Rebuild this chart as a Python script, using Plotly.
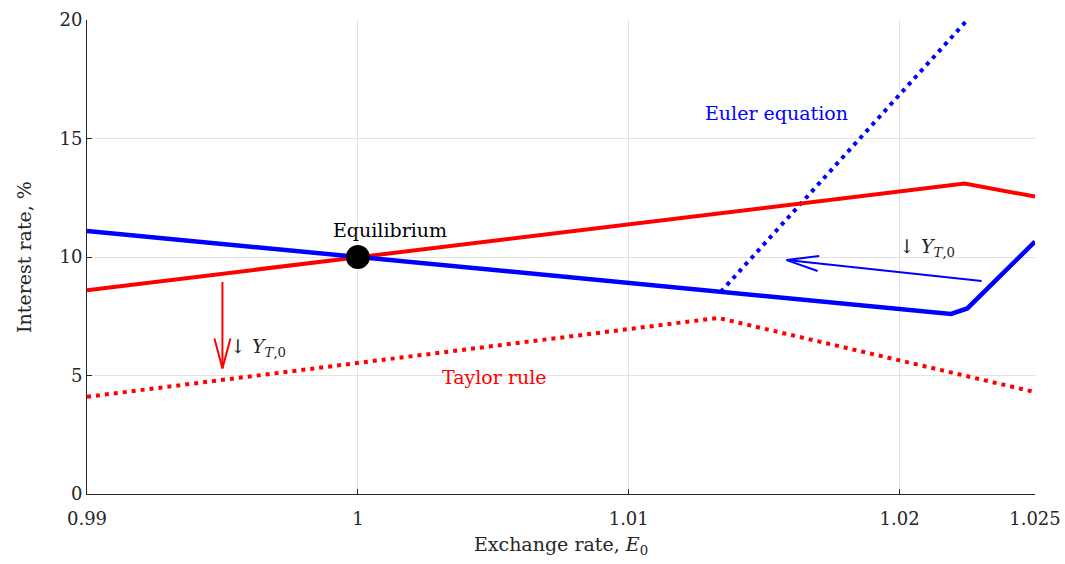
import plotly.graph_objects as go
import numpy as np

# ---- data ----
taylor_x = [0.99, 1.0, 1.0220, 1.0224, 1.025]
taylor_y = [8.6, 10.0, 13.08, 13.1, 12.55]

euler_x = [0.99, 1.0, 1.0134, 1.0219, 1.0225, 1.025]
euler_y = [11.1, 10.0, 8.53, 7.6, 7.83, 10.65]

euler_shift_x = [1.0134, 1.0225]
euler_shift_y = [8.53, 20.0]

taylor_shift_x = [0.99, 1.0133, 1.025]
taylor_shift_y = [4.1, 7.43, 4.3]

equil_x = [1.0]
equil_y = [10.0]

red_arrow_x = [0.995, 0.995]      # tail, tip
red_arrow_y = [8.95, 5.3]
blue_arrow_x = [1.02303, 1.01583]
blue_arrow_y = [8.99, 9.87]

x_ticks = [0.99, 1.0, 1.01, 1.02, 1.025]
x_ticklabels = ["0.99", "1", "1.01", "1.02", "1.025"]
y_ticks = [0, 5, 10, 15, 20]

X_RANGE = [0.99, 1.025]
Y_RANGE = [0, 20]

W, H = 1065, 564
ML, MR, MT, MB = 87, 30, 20, 70
PW, PH = W - ML - MR, H - MT - MB
sx = PW / (X_RANGE[1] - X_RANGE[0])
sy = PH / (Y_RANGE[1] - Y_RANGE[0])

FONT = "DejaVu Serif"
RED = "#ff0000"
BLUE = "#0000ff"
DARK = "#262626"


def arrow_traces(xs, ys, color, width, head_len, head_half):
    traces = [go.Scatter(x=xs, y=ys, mode="lines",
                         line=dict(color=color, width=width),
                         showlegend=False, hoverinfo="skip")]
    tx, ty = xs[1] * sx, ys[1] * sy
    bx, by = xs[0] * sx, ys[0] * sy
    d = np.array([tx - bx, ty - by])
    u = d / np.linalg.norm(d)
    n = np.array([-u[1], u[0]])
    p1 = np.array([tx, ty]) - head_len * u + head_half * n
    p2 = np.array([tx, ty]) - head_len * u - head_half * n
    hx = [p1[0] / sx, xs[1], p2[0] / sx]
    hy = [p1[1] / sy, ys[1], p2[1] / sy]
    traces.append(go.Scatter(x=hx, y=hy, mode="lines",
                             line=dict(color=color, width=width),
                             showlegend=False, hoverinfo="skip"))
    return traces


fig = go.Figure()

fig.add_trace(go.Scatter(x=taylor_shift_x, y=taylor_shift_y, mode="lines",
                         line=dict(color=RED, width=4, dash="4px,5px"),
                         showlegend=False))
fig.add_trace(go.Scatter(x=euler_shift_x, y=euler_shift_y, mode="lines",
                         line=dict(color=BLUE, width=4, dash="4px,5px"),
                         showlegend=False))
fig.add_trace(go.Scatter(x=taylor_x, y=taylor_y, mode="lines",
                         line=dict(color=RED, width=4),
                         showlegend=False))
fig.add_trace(go.Scatter(x=euler_x, y=euler_y, mode="lines",
                         line=dict(color=BLUE, width=4.5),
                         showlegend=False))

for t in arrow_traces(red_arrow_x, red_arrow_y, RED, 2, 30, 8):
    fig.add_trace(t)
for t in arrow_traces(blue_arrow_x, blue_arrow_y, BLUE, 2, 32, 7.5):
    fig.add_trace(t)

fig.add_trace(go.Scatter(x=equil_x, y=equil_y, mode="markers",
                         marker=dict(color="black", size=24),
                         showlegend=False))

annots = [
    dict(x=1.00119, y=11.15, text="Equilibrium", font=dict(color="black", size=19),
         xanchor="center", yanchor="middle"),
    dict(x=1.01545, y=16.08, text="Euler equation", font=dict(color=BLUE, size=19),
         xanchor="center", yanchor="middle"),
    dict(x=1.00503, y=4.94, text="Taylor rule", font=dict(color=RED, size=19),
         xanchor="center", yanchor="middle"),
    dict(x=0.9952, y=6.2, text="↓ <i>Y</i><sub><i>T</i>,0</sub>",
         font=dict(color=DARK, size=19), xanchor="left", yanchor="middle"),
    dict(x=1.0199, y=10.4, text="↓ <i>Y</i><sub><i>T</i>,0</sub>",
         font=dict(color=DARK, size=19), xanchor="left", yanchor="middle"),
]
for a in annots:
    a["font"]["family"] = FONT
    fig.add_annotation(showarrow=False, xref="x", yref="y", **a)

fig.update_layout(
    width=W, height=H,
    margin=dict(l=ML, r=MR, t=MT, b=MB, autoexpand=False),
    plot_bgcolor="white", paper_bgcolor="white",
    font=dict(family=FONT, size=18, color=DARK),
    xaxis=dict(range=X_RANGE, tickvals=x_ticks, ticktext=x_ticklabels,
               automargin=False, ticklabelstandoff=8,
               showgrid=True, gridcolor="#e2e2e2", gridwidth=1,
               showline=True, linecolor=DARK, linewidth=1,
               ticks="inside", ticklen=5, tickcolor=DARK, zeroline=False,
               title=dict(text="Exchange rate, <i>E</i><sub>0</sub>", standoff=10,
                          font=dict(size=19))),
    yaxis=dict(range=Y_RANGE, tickvals=y_ticks, automargin=False,
               showgrid=True, gridcolor="#e2e2e2", gridwidth=1,
               showline=True, linecolor=DARK, linewidth=1,
               ticks="inside", ticklen=5, tickcolor=DARK, zeroline=False,
               title=dict(text="Interest rate, %", standoff=22,
                          font=dict(size=19))),
)

fig.write_html("out.html",
               config={"displayModeBar": False},
               post_script="document.body.style.margin='0';"
                           "document.body.style.overflow='hidden';")
